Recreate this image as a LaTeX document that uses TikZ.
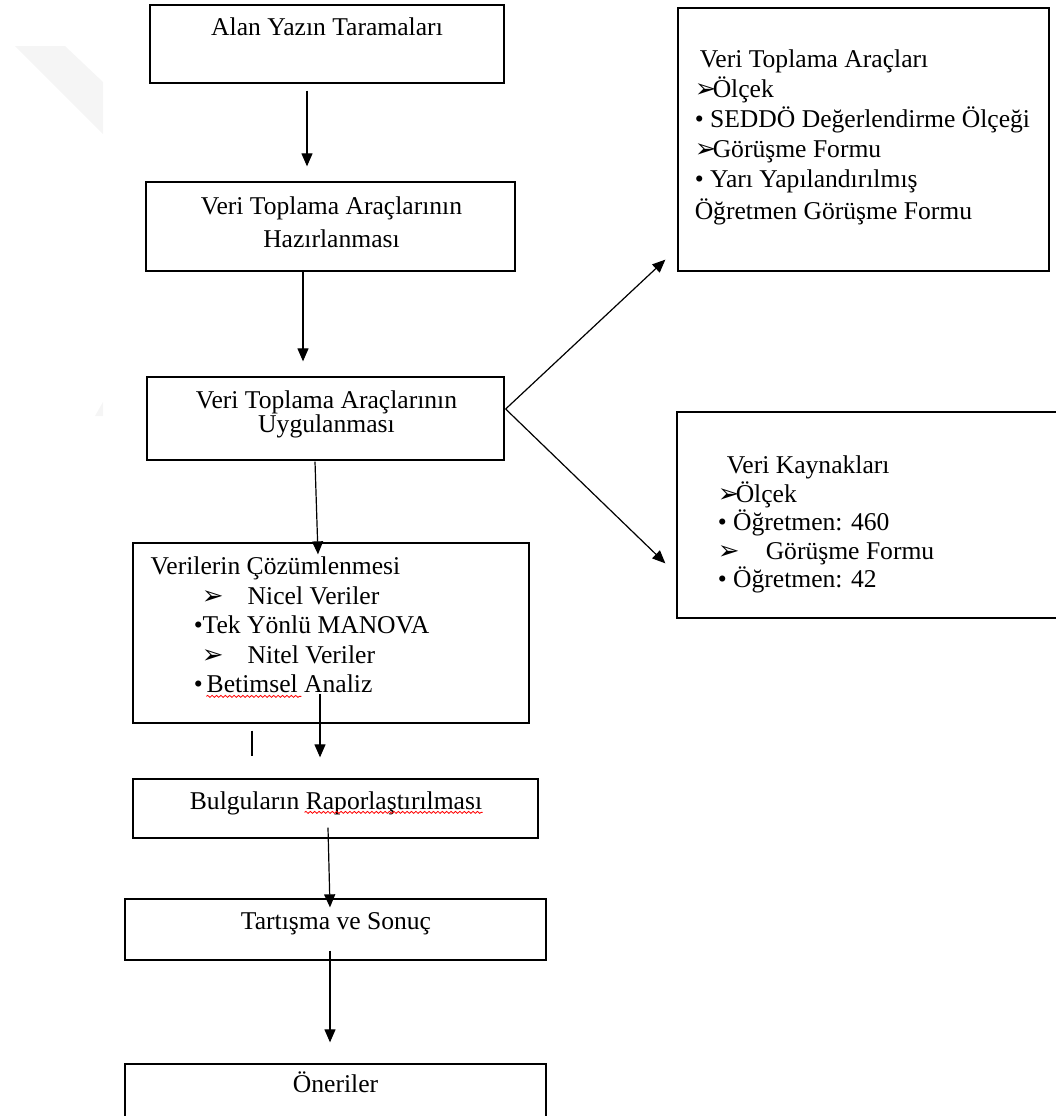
\documentclass[tikz,border=0pt]{standalone}
\usepackage{fontspec}
\setmainfont{Liberation Serif}
\newfontfamily\symfont{DejaVu Sans}
\usepackage{tikz}
\usetikzlibrary{
  arrows.meta,
  calc,
  positioning,
  decorations.pathmorphing
}
\newcommand\arr{\makebox[9pt][l]{\symfont\fontsize{13}{13}\selectfont ➢}}
\newcommand\topstrut{\rule{0pt}{10pt}}
\tikzset{
  >={Triangle[length=6.5pt,width=5.5pt]},
  line cap=round,
  line join=round,
  box/.style={draw, line width=0.65pt, inner sep=0pt},
  txt/.style={inner sep=0pt, font=\fontsize{12.8}{15}\selectfont},
  arrow/.style={->, line width=0.6pt},
  spell/.style={draw=red, line width=0.4pt, decorate,
    decoration={snake, segment length=2.2pt, amplitude=0.5pt}}
}

\begin{document}
\begin{tikzpicture}[x=0.5pt, y=-0.5pt]
    \useasboundingbox (0,0) rectangle (1056,1116);

    \fill[black!4] (15,46) -- (65,46) -- (103,82) -- (103,134) -- cycle;
    \fill[black!4] (95,416) -- (103,402) -- (103,416) -- cycle;

    \node[box, minimum width=177pt, minimum height=39pt] (lit) at (327,44) {};
    \node[box, minimum width=184.5pt, minimum height=44.5pt] (prep) at (330.5,226.5) {};
    \node[box, minimum width=178.5pt, minimum height=41.5pt] (apply) at (325.5,418.5) {};
    \node[box, minimum width=198pt, minimum height=90pt] (anal) at (331,633) {};
    \node[box, minimum width=202.5pt, minimum height=29.5pt] (report) at (335.5,808.5) {};
    \node[box, minimum width=210.5pt, minimum height=30.5pt] (concl) at (335.5,929.5) {};
    \node[box, minimum width=210.5pt, minimum height=43pt] (sugg) at (335.5,1107) {};
    \node[box, minimum width=185.5pt, minimum height=131.5pt] (tools) at (863.5,139.5) {};
    \node[box, minimum width=201.5pt, minimum height=103pt] (src) at (878.5,515) {};

    \node[txt, anchor=base] (litT) at ($(lit.north)+(0,31)$) {Alan Yazın Taramaları};
    \node[txt, anchor=north, align=center, font=\fontsize{12.8}{16.5}\selectfont]
        (prepT) at ($(prep.north)+(1,13)$) {\topstrut Veri Toplama Araçlarının\\Hazırlanması};
    \node[txt, anchor=north, align=center, font=\fontsize{12.8}{12}\selectfont]
        (applyT) at ($(apply.north)+(1,12)$) {\topstrut Veri Toplama Araçlarının\\Uygulanması};
    \node[txt, anchor=north west, align=left, font=\fontsize{12.8}{14.75}\selectfont]
        (analT) at ($(anal.north west)+(18,12)$) {\topstrut Verilerin Çözümlenmesi\\
        \hspace*{25.5pt}\makebox[23pt][l]{\arr}Nicel Veriler\\
        \hspace*{21.5pt}•Tek Yönlü MANOVA\\
        \hspace*{25.5pt}\makebox[23pt][l]{\arr}Nitel Veriler\\
        \hspace*{21.5pt}•\hspace{2pt}Betimsel Analiz};
    \node[txt, anchor=base] (reportT) at ($(report.north)+(0.5,31)$) {Bulguların Raporlaştırılması};
    \node[txt, anchor=base] (conclT) at ($(concl.north)+(0.5,31)$) {Tartışma ve Sonuç};
    \node[txt, anchor=base] (suggT) at ($(sugg.north)+(0,29)$) {Öneriler};
    \node[txt, anchor=north west, align=left]
        (toolsT) at ($(tools.north west)+(17,40)$) {\topstrut\hspace*{2.5pt}Veri Toplama Araçları\\
        \arr Ölçek\\
        • SEDDÖ Değerlendirme Ölçeği\\
        \arr Görüşme Formu\\
        • Yarı Yapılandırılmış\\[1pt]
        Öğretmen Görüşme Formu};
    \node[txt, anchor=north west, align=left, font=\fontsize{12.8}{14.25}\selectfont]
        (srcT) at ($(src.north west)+(41,42)$) {\topstrut\hspace*{4.5pt}Veri Kaynakları\\
        \arr Ölçek\\
        • Öğretmen: 460\\
        \makebox[24pt][l]{\arr}Görüşme Formu\\
        • Öğretmen: 42};

    \draw[spell] ($(anal.north west)+(74,154)$) -- ($(anal.north west)+(169,154)$);
    \draw[spell] ($(reportT.base east)+(-178,3)$) -- ($(reportT.base east)+(0,3)$);

    \draw[arrow] ($(lit.south)+(-20,7)$) -- ($(prep.north)+(-23.5,-15)$);
    \draw[arrow] ($(prep.south)+(-27.5,0)$) -- ($(apply.north)+(-22.5,-15)$);
    \draw[arrow] ($(apply.south)+(-10.5,1)$) -- ($(anal.north)+(-13,12)$);
    \draw[arrow] ($(apply.east)+(1,-9.5)$) -- ($(tools.south west)+(-12,-12)$);
    \draw[arrow] ($(apply.east)+(1,-9.5)$) -- ($(src.north west)+(-11,152)$);
    \draw[arrow] ($(anal.south)+(-11,-30)$) -- ($(report.north)+(-15.5,-21)$);
    \draw[line width=0.6pt] ($(anal.south)+(-79,7)$) -- ++(0,25);
    \draw[arrow] ($(report.south)+(-7.5,-11)$) -- ($(concl.north)+(-5.5,9)$);
    \draw[arrow] ($(concl.south)+(-5.5,-10)$) -- ($(sugg.north)+(-5.5,-21)$);
\end{tikzpicture}
\end{document}
